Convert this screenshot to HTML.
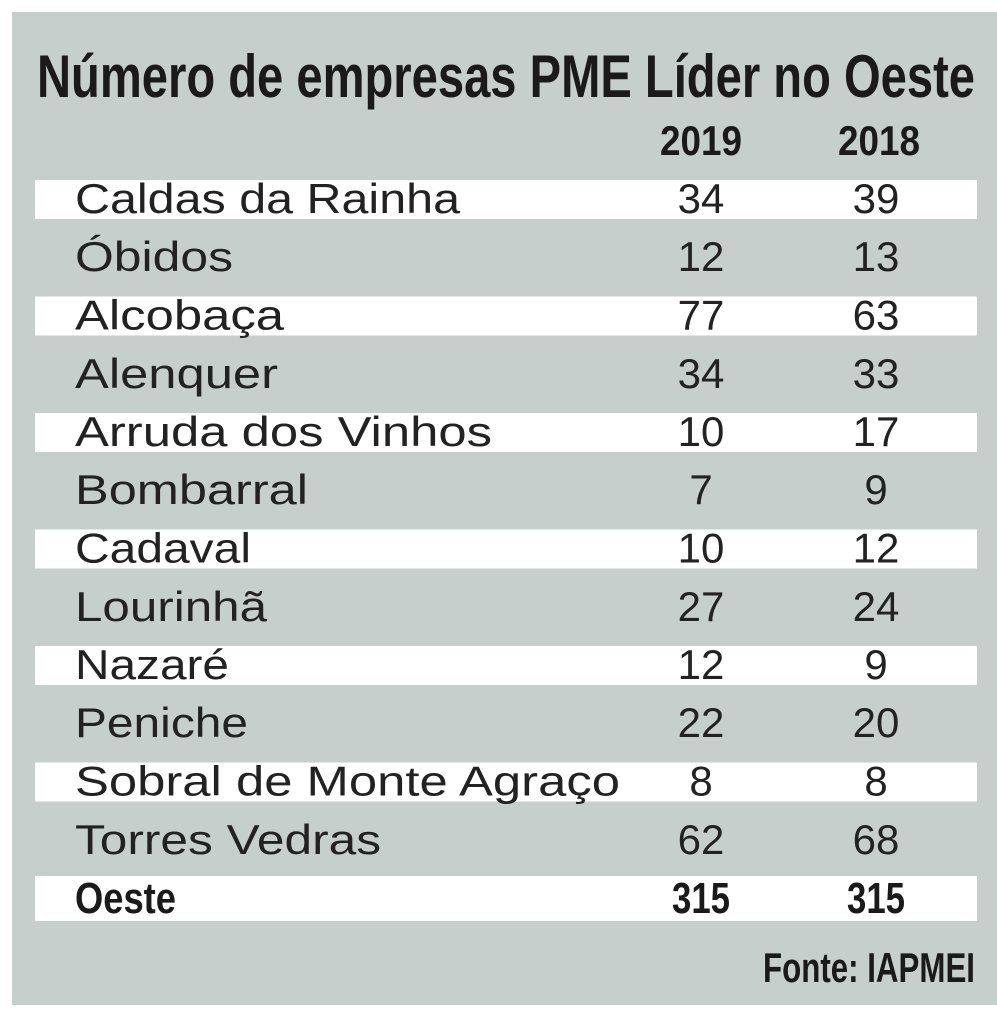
<!DOCTYPE html>
<html><head><meta charset="utf-8"><style>
html,body{margin:0;padding:0;background:#fff;}
svg{display:block}
.t{font-family:"Liberation Sans Narrow","Liberation Sans",sans-serif;font-weight:bold;fill:#1a1a1a}
.b{font-family:"Liberation Sans",sans-serif;fill:#222;font-size:42px}
</style></head><body>
<svg width="997" height="1010" viewBox="0 0 997 1010">
<rect x="12" y="12" width="985" height="993" fill="#c6cfcb"/>
<text class="t" x="37" y="97" font-size="60" textLength="938" lengthAdjust="spacingAndGlyphs">Número de empresas PME Líder no Oeste</text>
<text class="t" x="660" y="155" font-size="42" textLength="82" lengthAdjust="spacingAndGlyphs">2019</text>
<text class="t" x="838" y="155" font-size="42" textLength="82" lengthAdjust="spacingAndGlyphs">2018</text>
<g fill="#fff">
<rect x="35" y="180" width="942" height="39"/>
<rect x="35" y="296.5" width="942" height="39"/>
<rect x="35" y="413" width="942" height="39"/>
<rect x="35" y="529.5" width="942" height="39"/>
<rect x="35" y="646" width="942" height="39"/>
<rect x="35" y="762.5" width="942" height="39"/>
<rect x="35" y="876" width="942" height="45"/>
</g>
<g class="b">
<text x="75" y="213" textLength="385" lengthAdjust="spacingAndGlyphs">Caldas da Rainha</text>
<text x="75" y="271" textLength="158" lengthAdjust="spacingAndGlyphs">Óbidos</text>
<text x="75" y="329.5" textLength="209" lengthAdjust="spacingAndGlyphs">Alcobaça</text>
<text x="75" y="388" textLength="203" lengthAdjust="spacingAndGlyphs">Alenquer</text>
<text x="75" y="446" textLength="417" lengthAdjust="spacingAndGlyphs">Arruda dos Vinhos</text>
<text x="75" y="504" textLength="233" lengthAdjust="spacingAndGlyphs">Bombarral</text>
<text x="75" y="562.5" textLength="176" lengthAdjust="spacingAndGlyphs">Cadaval</text>
<text x="75" y="621" textLength="192" lengthAdjust="spacingAndGlyphs">Lourinhã</text>
<text x="75" y="679" textLength="154" lengthAdjust="spacingAndGlyphs">Nazaré</text>
<text x="75" y="737" textLength="173" lengthAdjust="spacingAndGlyphs">Peniche</text>
<text x="75" y="795.5" textLength="545" lengthAdjust="spacingAndGlyphs">Sobral de Monte Agraço</text>
<text x="75" y="854" textLength="306" lengthAdjust="spacingAndGlyphs">Torres Vedras</text>
</g>
<g class="b" text-anchor="middle">
<text x="701" y="213">34</text><text x="876" y="213">39</text>
<text x="701" y="271">12</text><text x="876" y="271">13</text>
<text x="701" y="329.5">77</text><text x="876" y="329.5">63</text>
<text x="701" y="388">34</text><text x="876" y="388">33</text>
<text x="701" y="446">10</text><text x="876" y="446">17</text>
<text x="701" y="504">7</text><text x="876" y="504">9</text>
<text x="701" y="562.5">10</text><text x="876" y="562.5">12</text>
<text x="701" y="621">27</text><text x="876" y="621">24</text>
<text x="701" y="679">12</text><text x="876" y="679">9</text>
<text x="701" y="737">22</text><text x="876" y="737">20</text>
<text x="701" y="795.5">8</text><text x="876" y="795.5">8</text>
<text x="701" y="854">62</text><text x="876" y="854">68</text>
</g>
<text class="t" x="75" y="913" font-size="44" textLength="101" lengthAdjust="spacingAndGlyphs">Oeste</text>
<text class="t" x="672" y="913" font-size="44" textLength="58" lengthAdjust="spacingAndGlyphs">315</text>
<text class="t" x="847" y="913" font-size="44" textLength="58" lengthAdjust="spacingAndGlyphs">315</text>
<text class="t" x="975" y="982" font-size="42" text-anchor="end" textLength="212" lengthAdjust="spacingAndGlyphs">Fonte: IAPMEI</text>
</svg>
</body></html>
